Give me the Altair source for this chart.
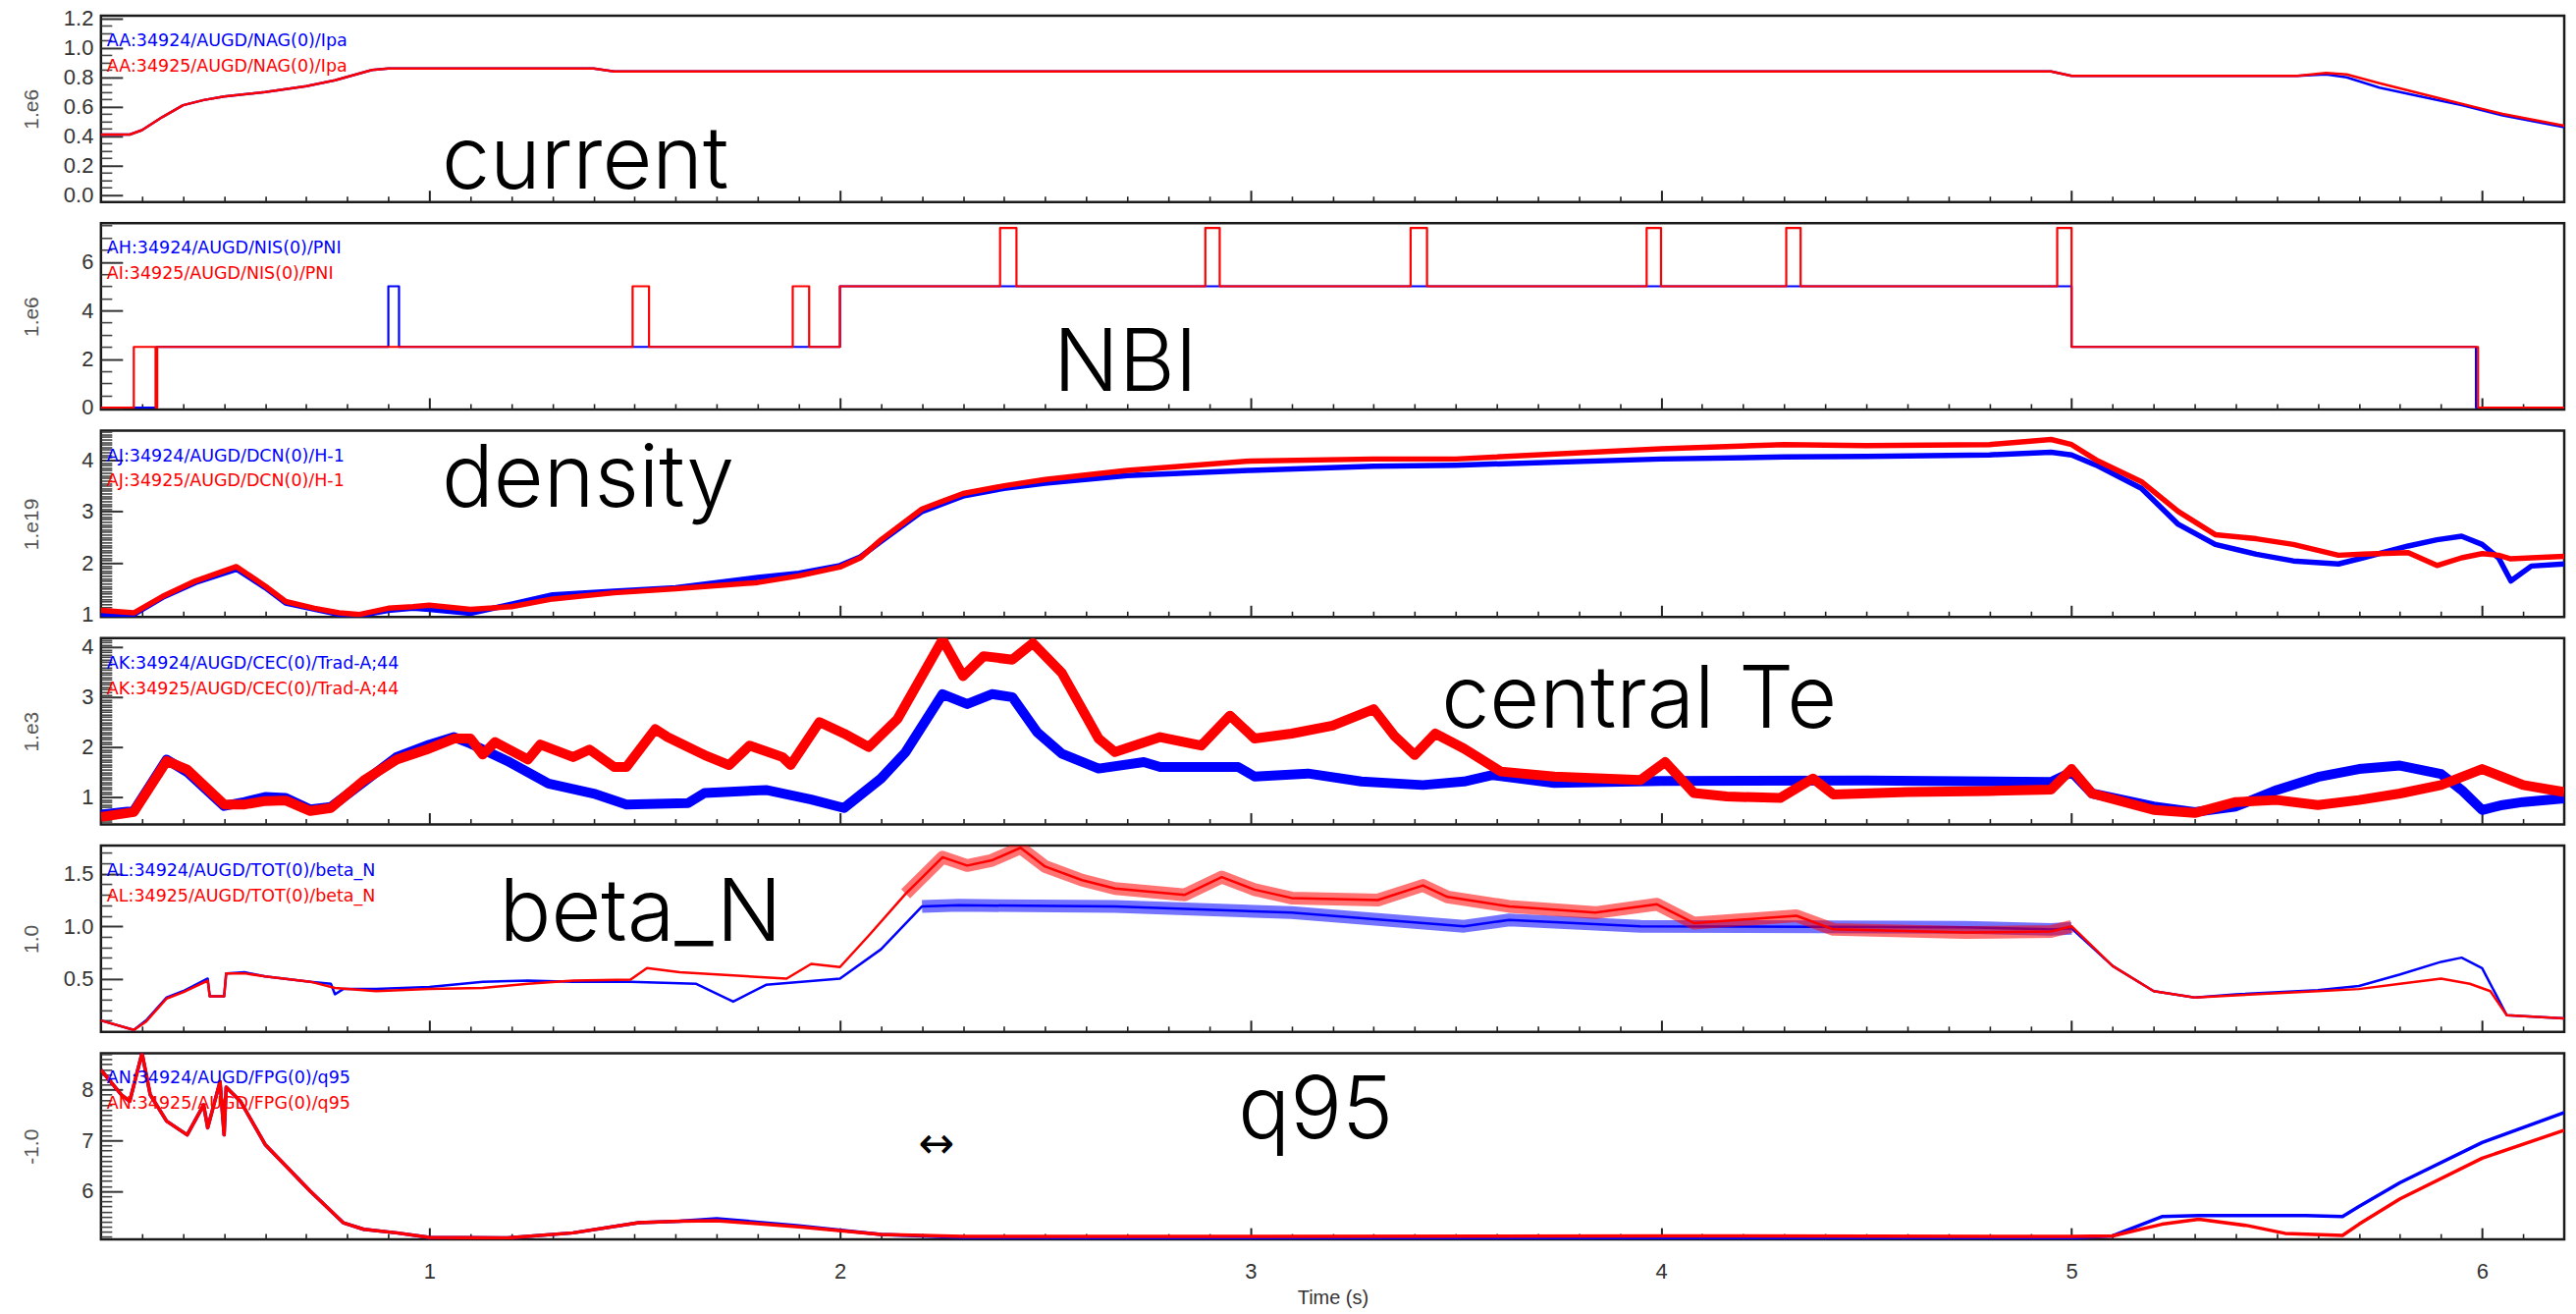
import altair as alt
import pandas as pd

# ---------------------------------------------------------------------------
# Shots 34924 (blue) and 34925 (red), time in seconds
# ---------------------------------------------------------------------------

# Plasma current Ipa [1e6 A]
ipa_t = [0.20, 0.27, 0.30, 0.35, 0.40, 0.45, 0.50, 0.60, 0.70, 0.77, 0.86, 0.90,
         1.40, 1.45, 2.00, 3.00, 4.00, 4.95, 5.00, 5.55, 5.62, 5.67, 5.75, 5.85,
         5.95, 6.05, 6.20]
ipa_34924 = [0.41, 0.41, 0.44, 0.53, 0.61, 0.645, 0.67, 0.70, 0.74, 0.78, 0.85, 0.86,
             0.86, 0.84, 0.84, 0.84, 0.84, 0.84, 0.81, 0.81, 0.82, 0.80, 0.73, 0.67,
             0.61, 0.54, 0.46]
ipa_34925 = [0.41, 0.41, 0.44, 0.53, 0.61, 0.645, 0.67, 0.70, 0.74, 0.78, 0.85, 0.86,
             0.86, 0.84, 0.84, 0.84, 0.84, 0.84, 0.81, 0.81, 0.83, 0.82, 0.76, 0.69,
             0.62, 0.55, 0.47]

# Neutral beam power PNI [1e6 W] (held until the next change)
nbi_34924_t = [0.20, 0.335, 0.900, 0.926, 2.000, 5.000, 5.985, 6.20]
nbi_34924 = [0.0, 2.5, 5.0, 2.5, 5.0, 2.5, 0.0, 0.0]
nbi_34925_t = [0.20, 0.280, 0.333, 0.337, 1.495, 1.535, 1.885, 1.925, 2.000, 2.390,
               2.430, 2.890, 2.925, 3.390, 3.430, 3.965, 4.000, 4.305, 4.340, 4.965,
               5.000, 5.990, 6.20]
nbi_34925 = [0.0, 2.5, 0.0, 2.5, 5.0, 2.5, 5.0, 2.5, 5.0, 7.4,
             5.0, 7.4, 5.0, 7.4, 5.0, 7.4, 5.0, 7.4, 5.0, 7.4,
             2.5, 0.0, 0.0]

# Line-integrated density H-1 [1e19]
ne_t = [0.20, 0.28, 0.35, 0.43, 0.53, 0.60, 0.65, 0.72, 0.78, 0.83,
        0.90, 0.96, 1.00, 1.10, 1.20, 1.30, 1.45, 1.60, 1.80, 1.90,
        2.00, 2.05, 2.10, 2.20, 2.30, 2.40, 2.50, 2.70, 3.00, 3.30,
        3.50, 4.00, 4.30, 4.50, 4.80, 4.95, 5.00, 5.06, 5.17, 5.26,
        5.35, 5.45, 5.54, 5.65, 5.71, 5.82, 5.89, 5.95, 6.00, 6.04,
        6.07, 6.12, 6.20]
ne_34924 = [1.00, 1.00, 1.33, 1.62, 1.88, 1.52, 1.22, 1.10, 1.00, 0.98,
            1.08, 1.12, 1.10, 1.02, 1.20, 1.38, 1.45, 1.52, 1.72, 1.80,
            1.95, 2.12, 2.42, 3.00, 3.30, 3.45, 3.55, 3.70, 3.80, 3.88,
            3.90, 4.02, 4.06, 4.07, 4.10, 4.15, 4.10, 3.90, 3.45, 2.75,
            2.36, 2.17, 2.04, 1.98, 2.10, 2.33, 2.45, 2.52, 2.36, 2.10,
            1.65, 1.94, 1.98]
ne_34925 = [1.08, 1.03, 1.35, 1.65, 1.93, 1.55, 1.25, 1.12, 1.03, 1.00,
            1.12, 1.15, 1.18, 1.10, 1.15, 1.30, 1.42, 1.50, 1.62, 1.75,
            1.92, 2.10, 2.45, 3.05, 3.35, 3.50, 3.62, 3.80, 3.98, 4.02,
            4.02, 4.22, 4.30, 4.28, 4.30, 4.40, 4.30, 4.00, 3.58, 3.00,
            2.55, 2.47, 2.36, 2.15, 2.17, 2.20, 1.95, 2.10, 2.18, 2.15,
            2.08, 2.10, 2.13]

# Central electron temperature Trad-A;44 [1e3 eV]
te_34924_t = [0.20, 0.28, 0.36, 0.41, 0.50, 0.55, 0.60, 0.65, 0.71, 0.76,
              0.84, 0.92, 1.00, 1.06, 1.10, 1.19, 1.29, 1.40, 1.48, 1.63,
              1.67, 1.82, 1.93, 2.01, 2.10, 2.16, 2.25, 2.31, 2.37, 2.42,
              2.48, 2.54, 2.63, 2.74, 2.78, 2.97, 3.01, 3.14, 3.27, 3.42,
              3.52, 3.59, 3.74, 4.00, 4.50, 4.95, 5.00, 5.05, 5.20, 5.30,
              5.40, 5.50, 5.60, 5.70, 5.80, 5.90, 5.95, 6.00, 6.05, 6.10, 6.20]
te_34924 = [0.65, 0.72, 1.75, 1.50, 0.82, 0.90, 1.00, 0.98, 0.75, 0.80,
            1.30, 1.80, 2.05, 2.20, 2.07, 1.72, 1.27, 1.07, 0.85, 0.88,
            1.08, 1.14, 0.95, 0.78, 1.37, 1.90, 3.06, 2.86, 3.06, 3.00,
            2.30, 1.87, 1.57, 1.70, 1.60, 1.60, 1.41, 1.47, 1.31, 1.24,
            1.31, 1.44, 1.28, 1.32, 1.33, 1.30, 1.50, 1.07, 0.81, 0.70,
            0.81, 1.14, 1.40, 1.56, 1.63, 1.46, 1.14, 0.74, 0.84, 0.90, 0.97]
te_34925_t = [0.20, 0.28, 0.36, 0.41, 0.50, 0.55, 0.60, 0.65, 0.71, 0.76,
              0.84, 0.92, 1.00, 1.06, 1.10, 1.13, 1.16, 1.24, 1.27, 1.35,
              1.39, 1.45, 1.48, 1.55, 1.58, 1.67, 1.73, 1.78, 1.86, 1.88,
              1.95, 2.01, 2.07, 2.14, 2.25, 2.30, 2.35, 2.42, 2.47, 2.54,
              2.63, 2.67, 2.78, 2.88, 2.95, 3.01, 3.10, 3.20, 3.30, 3.35,
              3.40, 3.45, 3.52, 3.61, 3.74, 3.95, 4.01, 4.08, 4.16, 4.29,
              4.37, 4.42, 4.60, 4.80, 4.95, 5.00, 5.05, 5.20, 5.30, 5.40,
              5.50, 5.60, 5.70, 5.80, 5.90, 6.00, 6.05, 6.10, 6.20]
te_34925 = [0.60, 0.70, 1.72, 1.55, 0.85, 0.85, 0.92, 0.93, 0.72, 0.78,
            1.33, 1.75, 1.97, 2.17, 2.17, 1.85, 2.10, 1.75, 2.05, 1.80,
            1.95, 1.60, 1.60, 2.36, 2.20, 1.84, 1.64, 2.03, 1.80, 1.64,
            2.50, 2.27, 2.00, 2.56, 4.15, 3.42, 3.82, 3.75, 4.08, 3.49,
            2.17, 1.90, 2.20, 2.03, 2.63, 2.17, 2.27, 2.43, 2.76, 2.23,
            1.84, 2.27, 1.97, 1.51, 1.41, 1.34, 1.70, 1.08, 1.01, 0.98,
            1.37, 1.05, 1.10, 1.12, 1.15, 1.56, 1.07, 0.74, 0.68, 0.90,
            0.94, 0.84, 0.94, 1.07, 1.24, 1.56, 1.40, 1.24, 1.10]

# Normalised beta beta_N
bn_34924_t = [0.20, 0.28, 0.31, 0.36, 0.40, 0.46, 0.465, 0.50, 0.505, 0.55,
              0.60, 0.71, 0.76, 0.77, 0.79, 0.87, 1.00, 1.13, 1.24, 1.35,
              1.49, 1.65, 1.74, 1.82, 2.00, 2.10, 2.20, 2.29, 2.67, 3.10,
              3.52, 3.63, 3.95, 4.74, 4.95, 5.00, 5.10, 5.20, 5.30, 5.40,
              5.60, 5.70, 5.80, 5.90, 5.95, 6.00, 6.06, 6.20]
bn_34924 = [0.10, 0.01, 0.10, 0.32, 0.38, 0.50, 0.33, 0.33, 0.55, 0.56,
            0.52, 0.47, 0.45, 0.35, 0.40, 0.40, 0.42, 0.47, 0.48, 0.47,
            0.47, 0.45, 0.28, 0.44, 0.50, 0.78, 1.19, 1.20, 1.19, 1.13,
            1.00, 1.06, 1.00, 0.99, 0.97, 0.98, 0.62, 0.38, 0.32, 0.35,
            0.39, 0.43, 0.54, 0.66, 0.70, 0.60, 0.15, 0.12]
bn_34925_t = [0.20, 0.28, 0.31, 0.36, 0.40, 0.46, 0.465, 0.50, 0.505, 0.55,
              0.60, 0.71, 0.77, 0.87, 1.00, 1.13, 1.24, 1.35, 1.49, 1.53,
              1.61, 1.87, 1.93, 2.00, 2.07, 2.16, 2.25, 2.31, 2.37, 2.44,
              2.50, 2.59, 2.67, 2.84, 2.93, 3.01, 3.10, 3.31, 3.42, 3.48,
              3.63, 3.84, 3.99, 4.08, 4.33, 4.42, 4.74, 4.95, 5.00, 5.10,
              5.20, 5.30, 5.40, 5.60, 5.70, 5.80, 5.90, 5.97, 6.02, 6.06, 6.20]
bn_34925 = [0.10, 0.01, 0.09, 0.31, 0.37, 0.48, 0.33, 0.33, 0.55, 0.55,
            0.52, 0.47, 0.41, 0.38, 0.40, 0.41, 0.45, 0.48, 0.49, 0.60,
            0.56, 0.50, 0.64, 0.61, 0.91, 1.31, 1.66, 1.58, 1.63, 1.75,
            1.57, 1.44, 1.36, 1.30, 1.47, 1.35, 1.27, 1.25, 1.39, 1.28,
            1.19, 1.13, 1.21, 1.03, 1.10, 0.97, 0.94, 0.95, 1.00, 0.62,
            0.38, 0.32, 0.34, 0.38, 0.40, 0.45, 0.50, 0.45, 0.38, 0.15, 0.12]

# Edge safety factor q95 (sign flipped)
q95_34924_t = [0.20, 0.25, 0.27, 0.30, 0.32, 0.36, 0.41, 0.45, 0.46, 0.49,
               0.50, 0.505, 0.54, 0.60, 0.71, 0.79, 0.84, 0.92, 1.00, 1.19,
               1.35, 1.51, 1.61, 1.70, 1.90, 2.10, 2.30, 3.00, 4.00, 5.00,
               5.10, 5.22, 5.31, 5.57, 5.66, 5.70, 5.80, 6.00, 6.20]
q95_34924 = [8.39, 7.90, 7.77, 8.72, 7.90, 7.38, 7.11, 7.70, 7.25, 8.16,
             7.11, 8.05, 7.77, 6.92, 6.00, 5.38, 5.25, 5.18, 5.09, 5.08,
             5.18, 5.38, 5.41, 5.46, 5.32, 5.15, 5.09, 5.08, 5.08, 5.08,
             5.12, 5.50, 5.52, 5.52, 5.50, 5.70, 6.17, 6.96, 7.55]
q95_34925_t = [0.20, 0.25, 0.27, 0.30, 0.32, 0.36, 0.41, 0.45, 0.46, 0.49,
               0.50, 0.505, 0.54, 0.60, 0.71, 0.79, 0.84, 0.92, 1.00, 1.19,
               1.35, 1.51, 1.61, 1.70, 1.90, 2.10, 2.30, 3.00, 4.00, 5.00,
               5.10, 5.22, 5.31, 5.43, 5.52, 5.66, 5.70, 5.80, 6.00, 6.20]
q95_34925 = [8.39, 7.90, 7.77, 8.72, 7.90, 7.38, 7.11, 7.70, 7.25, 8.16,
             7.11, 8.05, 7.77, 6.92, 6.00, 5.38, 5.25, 5.18, 5.09, 5.08,
             5.18, 5.38, 5.41, 5.42, 5.30, 5.15, 5.11, 5.11, 5.12, 5.11,
             5.12, 5.35, 5.45, 5.32, 5.17, 5.13, 5.35, 5.85, 6.65, 7.20]

# Signal names shown in each panel
legend_34924 = ["AA:34924/AUGD/NAG(0)/Ipa", "AH:34924/AUGD/NIS(0)/PNI",
                "AJ:34924/AUGD/DCN(0)/H-1", "AK:34924/AUGD/CEC(0)/Trad-A;44",
                "AL:34924/AUGD/TOT(0)/beta_N", "AN:34924/AUGD/FPG(0)/q95"]
legend_34925 = ["AA:34925/AUGD/NAG(0)/Ipa", "AI:34925/AUGD/NIS(0)/PNI",
                "AJ:34925/AUGD/DCN(0)/H-1", "AK:34925/AUGD/CEC(0)/Trad-A;44",
                "AL:34925/AUGD/TOT(0)/beta_N", "AN:34925/AUGD/FPG(0)/q95"]
y_titles = ["1.e6", "1.e6", "1.e19", "1.e3", "1.0", "-1.0"]

# ---------------------------------------------------------------------------
# Layout and styling
# ---------------------------------------------------------------------------
W, H = 2513, 190
BLUE, RED = "#0000ff", "#ff0000"
X_DOMAIN = [0.2, 6.2]
X_MAJOR = [1, 2, 3, 4, 5, 6]
TICK_MAJOR, TICK_MINOR = 22, 11
XTICK_MAJOR, XTICK_MINOR = 12, 6


def tick_run(lo, hi, step, skip=()):
    """Tick positions from lo to hi, leaving out the labelled ones."""
    n = int(round((hi - lo) / step))
    vals = [round(lo + k * step, 3) for k in range(n + 1)]
    return [v for v in vals if all(abs(v - s) > 1e-6 for s in skip)]


X_MINOR = tick_run(0.3, 6.1, 0.1, X_MAJOR)

# "ripple": time window in which the trace carries a fast sawtooth, drawn as a
# wide translucent stroke under the trace (start/end for blue, start/end for red)
panels = [
    dict(ydomain=[-0.05, 1.22], ymajor=[0.0, 0.2, 0.4, 0.6, 0.8, 1.0, 1.2], fmt=".1f",
         step=0.05, minor_lo=0.0, minor_hi=1.2,
         series=[(ipa_t, ipa_34924), (ipa_t, ipa_34925)], width=2.5, interp="linear",
         notes=[("current", 1.03, 0.04)]),
    dict(ydomain=[-0.08, 7.6], ymajor=[0, 2, 4, 6], fmt="d",
         step=0.5, minor_lo=0.5, minor_hi=7.5,
         series=[(nbi_34924_t, nbi_34924), (nbi_34925_t, nbi_34925)], width=2.2,
         interp="step-after", notes=[("NBI", 2.52, 0.67)]),
    dict(ydomain=[0.95, 4.57], ymajor=[1, 2, 3, 4], fmt="d",
         step=0.05, minor_lo=1.0, minor_hi=4.55,
         series=[(ne_t, ne_34924), (ne_t, ne_34925)], width=5.5, interp="linear",
         notes=[("density", 1.03, 3.09)]),
    dict(ydomain=[0.45, 4.18], ymajor=[1, 2, 3, 4], fmt="d",
         step=0.05, minor_lo=0.5, minor_hi=4.15,
         series=[(te_34924_t, te_34924), (te_34925_t, te_34925)], width=10,
         interp="linear", notes=[("central Te", 3.465, 2.38)]),
    dict(ydomain=[-0.01, 1.77], ymajor=[0.5, 1.0, 1.5], fmt=".1f",
         step=0.1, minor_lo=0.1, minor_hi=1.7,
         series=[(bn_34924_t, bn_34924), (bn_34925_t, bn_34925)], width=2.5,
         interp="linear", notes=[("beta_N", 1.17, 0.86)],
         ripple=[(2.2, 5.0), (2.16, 5.0)], ripple_width=13),
    dict(ydomain=[5.05, 8.72], ymajor=[6, 7, 8], fmt="d",
         step=0.1, minor_lo=5.1, minor_hi=8.7,
         series=[(q95_34924_t, q95_34924), (q95_34925_t, q95_34925)], width=3.5,
         interp="linear", notes=[("q95", 2.97, 7.05)]),
]

LABEL_FONT = "Liberation Sans"
NOTE_FONT = "Inter"


def inward(size):
    # negative tick length draws the tick inside the frame
    return alt.ExprRef(expr=str(-size))


def build_panel(i, p, bottom):
    xs = alt.Scale(domain=X_DOMAIN, nice=False, zero=False)
    ys = alt.Scale(domain=p["ydomain"], nice=False, zero=False)

    y_major = alt.Axis(
        orient="left", values=p["ymajor"], format=p["fmt"], domain=False, grid=False,
        tickSize=inward(TICK_MAJOR), tickColor="#333", tickWidth=2,
        labelPadding=TICK_MAJOR + 8, labelFont=LABEL_FONT, labelFontSize=22,
        labelColor="#333", title=y_titles[i], titleFont=LABEL_FONT, titleFontSize=21,
        titleFontWeight="normal", titleColor="#555", titleAngle=270, titleX=-70,
        titleY=H / 2, titleAlign="center", titleBaseline="middle",
    )
    y_minor = alt.Axis(
        orient="left", values=tick_run(p["minor_lo"], p["minor_hi"], p["step"], p["ymajor"]),
        labels=False, domain=False, grid=False, title=None,
        tickSize=inward(TICK_MINOR), tickColor="#444", tickWidth=1.6,
    )
    x_major = alt.Axis(
        orient="bottom", values=X_MAJOR, format="d", domain=False, grid=False,
        tickSize=inward(XTICK_MAJOR), tickColor="#222", tickWidth=2,
        labels=bottom, labelPadding=XTICK_MAJOR + 22, labelFlush=False,
        labelFont=LABEL_FONT, labelFontSize=22, labelColor="#333",
        title="Time (s)" if bottom else None, titleFont=LABEL_FONT, titleFontSize=20,
        titleFontWeight="normal", titleColor="#333", titleY=60, titleBaseline="middle",
    )
    x_minor = alt.Axis(
        orient="bottom", values=X_MINOR, labels=False, domain=False, grid=False,
        title=None, tickSize=inward(XTICK_MINOR), tickColor="#222", tickWidth=1.6,
    )

    layers = []
    for k, ((t, v), color) in enumerate(zip(p["series"], [BLUE, RED])):
        df = pd.DataFrame({"t": t, "v": v})
        if "ripple" in p:
            lo, hi = p["ripple"][k]
            band = df[(df.t >= lo) & (df.t <= hi)]
            layers.append(
                alt.Chart(band).mark_line(
                    color=color, strokeWidth=p["ripple_width"], opacity=0.55,
                    interpolate=p["interp"], clip=True, strokeJoin="round",
                ).encode(
                    x=alt.X("t:Q", scale=xs, axis=None),
                    y=alt.Y("v:Q", scale=ys, axis=None),
                )
            )
        layers.append(
            alt.Chart(df).mark_line(
                color=color, strokeWidth=p["width"], interpolate=p["interp"],
                clip=True, strokeJoin="round",
            ).encode(
                x=alt.X("t:Q", scale=xs, axis=x_major if k == 0 else None),
                y=alt.Y("v:Q", scale=ys, axis=y_major if k == 0 else None),
            )
        )

    notes = pd.DataFrame(p["notes"], columns=["label", "t", "v"])
    layers.append(
        alt.Chart(notes).mark_text(
            font=NOTE_FONT, fontWeight=300, fontSize=88, align="left",
            baseline="alphabetic", color="black",
        ).encode(
            x=alt.X("t:Q", scale=xs, axis=x_minor),
            y=alt.Y("v:Q", scale=ys, axis=y_minor),
            text="label:N",
        )
    )
    if i == 5:
        arrow = pd.DataFrame({"label": ["\u2194"], "t": [2.235], "v": [6.9]})
        layers.append(
            alt.Chart(arrow).mark_text(
                font="DejaVu Sans", fontSize=44, align="center", baseline="middle",
                color="black",
            ).encode(x=alt.X("t:Q", scale=xs, axis=None),
                     y=alt.Y("v:Q", scale=ys, axis=None), text="label:N")
        )

    for name, color, ypix in [(legend_34924[i], BLUE, 26), (legend_34925[i], RED, 52)]:
        layers.append(
            alt.Chart(pd.DataFrame({"s": [name]})).mark_text(
                font="DejaVu Sans", fontSize=17.5, align="left", baseline="middle",
                color=color,
            ).encode(x=alt.value(6), y=alt.value(ypix), text="s:N")
        )

    return alt.layer(*layers).resolve_axis(x="independent", y="independent").properties(
        width=W, height=H
    )


charts = [build_panel(i, p, i == len(panels) - 1) for i, p in enumerate(panels)]

chart = alt.vconcat(*charts, spacing=21.6, bounds="flush").properties(
    padding={"left": 20, "top": 5, "right": 10, "bottom": 5},
    background="white",
).configure_view(stroke="#1a1a1a", strokeWidth=2.5)

chart.save("out.html", embed_options={"renderer": "svg", "actions": False})
